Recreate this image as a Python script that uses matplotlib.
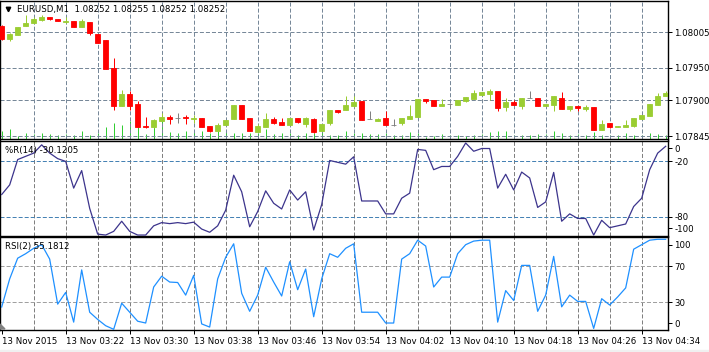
import numpy as np
import matplotlib
matplotlib.use("Agg")
import matplotlib.pyplot as plt
from matplotlib.patches import Polygon, Rectangle
from matplotlib.ticker import FormatStrFormatter

# EURUSD M1 bars, 13 Nov 2015 03:14 .. 04:37
opens = [1.08015, 1.07995, 1.08001, 1.08015, 1.08019, 1.08024, 1.08028, 1.08026, 1.08021, 1.08022,
         1.08013, 1.08021, 1.08002, 1.07993, 1.07950, 1.07891, 1.07910, 1.07894, 1.07860, 1.07859,
         1.07868, 1.07874, 1.07873, 1.07874, 1.07872, 1.07873, 1.07860, 1.07853, 1.07862, 1.07871,
         1.07893, 1.07873, 1.07851, 1.07859, 1.07871, 1.07867, 1.07862, 1.07873, 1.07864, 1.07871,
         1.07853, 1.07865, 1.07885, 1.07885, 1.07891, 1.07899, 1.07871, 1.07868, 1.07873, 1.07862,
         1.07865, 1.07871, 1.07874, 1.07902, 1.07901, 1.07891, 1.07894, 1.07893, 1.07899, 1.07902,
         1.07908, 1.07910, 1.07914, 1.07890, 1.07897, 1.07891, 1.07904, 1.07904, 1.07891, 1.07893,
         1.07904, 1.07887, 1.07891, 1.07887, 1.07890, 1.07854, 1.07865, 1.07859, 1.07859, 1.07860,
         1.07871, 1.07876, 1.07893, 1.07907]
highs = [1.08016, 1.08004, 1.08013, 1.08032, 1.08029, 1.08032, 1.08028, 1.08026, 1.08029, 1.08022,
         1.08026, 1.08021, 1.08002, 1.07993, 1.07965, 1.07916, 1.07914, 1.07899, 1.07874, 1.07871,
         1.07880, 1.07877, 1.07880, 1.07877, 1.07877, 1.07873, 1.07860, 1.07865, 1.07870, 1.07893,
         1.07893, 1.07873, 1.07864, 1.07880, 1.07874, 1.07873, 1.07873, 1.07873, 1.07874, 1.07873,
         1.07864, 1.07885, 1.07885, 1.07907, 1.07907, 1.07899, 1.07884, 1.07873, 1.07884, 1.07871,
         1.07873, 1.07893, 1.07902, 1.07902, 1.07901, 1.07902, 1.07896, 1.07901, 1.07905, 1.07916,
         1.07913, 1.07917, 1.07914, 1.07904, 1.07901, 1.07904, 1.07914, 1.07904, 1.07894, 1.07907,
         1.07913, 1.07891, 1.07891, 1.07893, 1.07890, 1.07870, 1.07865, 1.07860, 1.07870, 1.07873,
         1.07877, 1.07894, 1.07911, 1.07914]
lows = [1.07993, 1.07992, 1.08001, 1.08015, 1.08019, 1.08022, 1.08024, 1.08022, 1.08019, 1.08013,
        1.08013, 1.08001, 1.07988, 1.07948, 1.07885, 1.07891, 1.07885, 1.07859, 1.07857, 1.07857,
        1.07868, 1.07864, 1.07865, 1.07864, 1.07865, 1.07859, 1.07851, 1.07853, 1.07862, 1.07871,
        1.07871, 1.07853, 1.07851, 1.07859, 1.07864, 1.07862, 1.07862, 1.07865, 1.07859, 1.07850,
        1.07853, 1.07862, 1.07880, 1.07885, 1.07889, 1.07870, 1.07871, 1.07868, 1.07862, 1.07860,
        1.07862, 1.07871, 1.07874, 1.07896, 1.07891, 1.07891, 1.07890, 1.07893, 1.07897, 1.07902,
        1.07908, 1.07901, 1.07884, 1.07884, 1.07893, 1.07887, 1.07904, 1.07891, 1.07891, 1.07884,
        1.07887, 1.07884, 1.07884, 1.07884, 1.07854, 1.07854, 1.07857, 1.07859, 1.07859, 1.07859,
        1.07871, 1.07876, 1.07893, 1.07907]
closes = [1.07995, 1.08002, 1.08013, 1.08019, 1.08026, 1.08029, 1.08026, 1.08022, 1.08022, 1.08013,
          1.08022, 1.08004, 1.07988, 1.07948, 1.07891, 1.07910, 1.07891, 1.07859, 1.07859, 1.07870,
          1.07874, 1.07871, 1.07873, 1.07873, 1.07873, 1.07859, 1.07853, 1.07862, 1.07870, 1.07893,
          1.07871, 1.07853, 1.07860, 1.07871, 1.07865, 1.07862, 1.07873, 1.07867, 1.07873, 1.07851,
          1.07864, 1.07885, 1.07882, 1.07893, 1.07897, 1.07870, 1.07871, 1.07871, 1.07862, 1.07862,
          1.07873, 1.07876, 1.07902, 1.07899, 1.07891, 1.07894, 1.07894, 1.07901, 1.07905, 1.07911,
          1.07913, 1.07914, 1.07888, 1.07897, 1.07893, 1.07904, 1.07904, 1.07891, 1.07894, 1.07907,
          1.07887, 1.07891, 1.07888, 1.07890, 1.07854, 1.07864, 1.07859, 1.07860, 1.07862, 1.07873,
          1.07877, 1.07894, 1.07907, 1.07911]
volumes = [23, 30, 8, 18, 15, 16, 14, 12, 14, 12, 22, 12, 16, 36, 47, 40, 53, 35, 14, 35,
           60, 20, 16, 24, 22, 24, 16, 24, 20, 16, 18, 16, 16, 30, 14, 16, 18, 10, 16, 16,
           25, 10, 10, 22, 16, 16, 14, 14, 16, 12, 10, 20, 18, 6, 8, 14, 10, 10, 8, 12,
           14, 20, 22, 23, 12, 12, 10, 14, 14, 22, 16, 10, 14, 10, 20, 12, 10, 10, 16, 12,
           10, 18, 14, 10]

wpr = [-56, -45.5, -18, -14.5, -11, -2, -11, -17, -20, -49,
       -30, -71, -99, -100, -96, -85, -96, -100, -100, -90,
       -86.5, -87.6, -86.5, -87.6, -86, -93.5, -97, -90, -73, -35,
       -53, -91, -74.5, -52, -65.5, -71.7, -51, -62, -53, -94.5,
       -67, -19, -21, -23, -15, -63, -63, -63, -77, -77,
       -60, -54.5, -7, -8, -29, -25.5, -25.5, -14.5, 0, -9,
       -6, -6, -49, -34, -51, -31.6, -38, -70, -64, -32,
       -85, -77, -82, -82, -100, -84, -92, -90, -88, -69,
       -60, -29, -11, -3.6]
rsi = [24.8, 56, 79, 84, 90, 94, 78, 28, 41, 8,
       66, 19, 11, 4, 0, 29, 19, 9, 7, 47,
       59, 52.5, 52, 38, 60, 6, 2.5, 56, 80, 95,
       40, 20, 38, 69, 52.5, 37, 75, 44, 67, 14,
       56, 84, 80, 90, 95, 19, 19, 19, 7, 7,
       78, 84, 99, 92.5, 47, 58, 58, 84, 94, 98,
       99, 99, 8, 43, 32, 71, 71, 20, 38, 81,
       25, 38, 31, 31, 1, 34, 27, 36, 46, 89,
       94, 99, 100, 100]

time_labels = ["13 Nov 2015", "13 Nov 03:22", "13 Nov 03:30", "13 Nov 03:38", "13 Nov 03:46",
               "13 Nov 03:54", "13 Nov 04:02", "13 Nov 04:10", "13 Nov 04:18", "13 Nov 04:26",
               "13 Nov 04:34"]
price_ticks = [1.08005, 1.07950, 1.07900, 1.07845]
header = "EURUSD,M1  1.08252 1.08255 1.08252 1.08252"
wpr_header = "%R(14) -30.1205"
rsi_header = "RSI(2) 55.1812"

plt.rcParams["font.family"] = "DejaVu Sans"
plt.rcParams["lines.scale_dashes"] = False
FS = 6.2
DASH = (0, (2.9, 1.45))

W, H = 709, 352
fig = plt.figure(figsize=(W / 100, H / 100), dpi=100)


def box(top, bottom, left=0, right=668):
    return [left / W, 1 - bottom / H, (right - left) / W, (bottom - top) / H]


ax_vol = fig.add_axes(box(1, 139.5))
ax = fig.add_axes(box(1, 139.5))
ax_wpr = fig.add_axes(box(140.5, 235.5))
ax_rsi = fig.add_axes(box(236.5, 329.5))

x = np.arange(len(opens))
o = np.array(opens)
c = np.array(closes)
cols = ["#9ACD32" if cc > oo else ("#FF0000" if cc < oo else "#808080") for oo, cc in zip(o, c)]

# volumes behind the candles
ax_vol.vlines(x, 0, volumes, colors="#32CD32", lw=0.72)
ax_vol.set_ylim(-2.4, 413)
ax_vol.axis("off")

ax.patch.set_alpha(0)
ax.vlines(x, lows, highs, colors=cols, lw=0.72, zorder=3)
ax.bar(x, np.abs(c - o), bottom=np.minimum(o, c), width=0.56, color=cols,
       edgecolor=cols, linewidth=0.6, zorder=3)
ax.set_ylim(1.078396, 1.080533)

for a in (ax_vol, ax, ax_wpr, ax_rsi):
    a.set_xlim(-0.21, 83.29)

for a in (ax, ax_wpr, ax_rsi):
    for s in a.spines.values():
        s.set_color("black")
        s.set_linewidth(1)
    a.tick_params(axis="x", bottom=False, labelbottom=False)
    a.tick_params(axis="y", left=False, labelleft=False, right=True, labelright=True,
                  length=3, width=0.72, pad=1.5, labelsize=FS, colors="black")
    gcol = "#778899" if a is ax else "#808080"
    for k in range(4, 84, 4):
        a.axvline(k, color=gcol, lw=0.72, ls=DASH, zorder=1)

ax.set_yticks(price_ticks)
ax.yaxis.set_major_formatter(FormatStrFormatter("%.5f"))
for p in price_ticks:
    ax.axhline(p, color="#778899", lw=0.72, ls=DASH, zorder=1)
ax.text(17 / 668, 0.942, header, transform=ax.transAxes, fontsize=FS, va="center", ha="left")
ax.plot([7.5 / 668], [0.945], marker="v", ms=3.2, color="black", transform=ax.transAxes,
        clip_on=False)

# Williams %R
ax_wpr.plot(x, wpr, color="#3C348C", lw=0.9, zorder=3)
ax_wpr.set_ylim(-100.5, 2.7)
for lv in (-20, -80):
    ax_wpr.axhline(lv, color="#4682B4", lw=0.72, ls=DASH, zorder=1)
ax_wpr.set_yticks([-5.5, -20, -80, -92.7])
ax_wpr.set_yticklabels(["0", "-20", "-80", "-100"])
ax_wpr.text(5 / 668, 0.893, wpr_header, transform=ax_wpr.transAxes, fontsize=FS,
            va="center", ha="left")

# RSI
ax_rsi.plot(x, rsi, color="#1E90FF", lw=0.9, zorder=3)
ax_rsi.set_ylim(-0.2, 103.1)
for lv in (70, 30):
    ax_rsi.axhline(lv, color="#A0A0A0", lw=0.72, ls=DASH, zorder=1)
ax_rsi.set_yticks([94.2, 70, 30, 6.7])
ax_rsi.set_yticklabels(["100", "70", "30", "0"])
ax_rsi.text(5 / 668, 0.89, rsi_header, transform=ax_rsi.transAxes, fontsize=FS,
            va="center", ha="left")
ax_rsi.set_xticks(range(0, 84, 8))
ax_rsi.set_xticklabels(time_labels, ha="left")
ax_rsi.tick_params(axis="x", bottom=True, labelbottom=True, length=3, width=0.72,
                   pad=2.5, labelsize=FS, colors="black")

# small grey marker in corner and bottom strip
fig.add_artist(Polygon([[0, (H - 329) / 100], [0, (H - 324) / 100], [5 / 100, (H - 329) / 100]],
                       closed=True, color="#808080", transform=fig.dpi_scale_trans))
fig.add_artist(Rectangle((0, 0), 1, 2.5 / H, transform=fig.transFigure, color="#F0F0F0"))

fig.savefig("out.png", dpi=100)
